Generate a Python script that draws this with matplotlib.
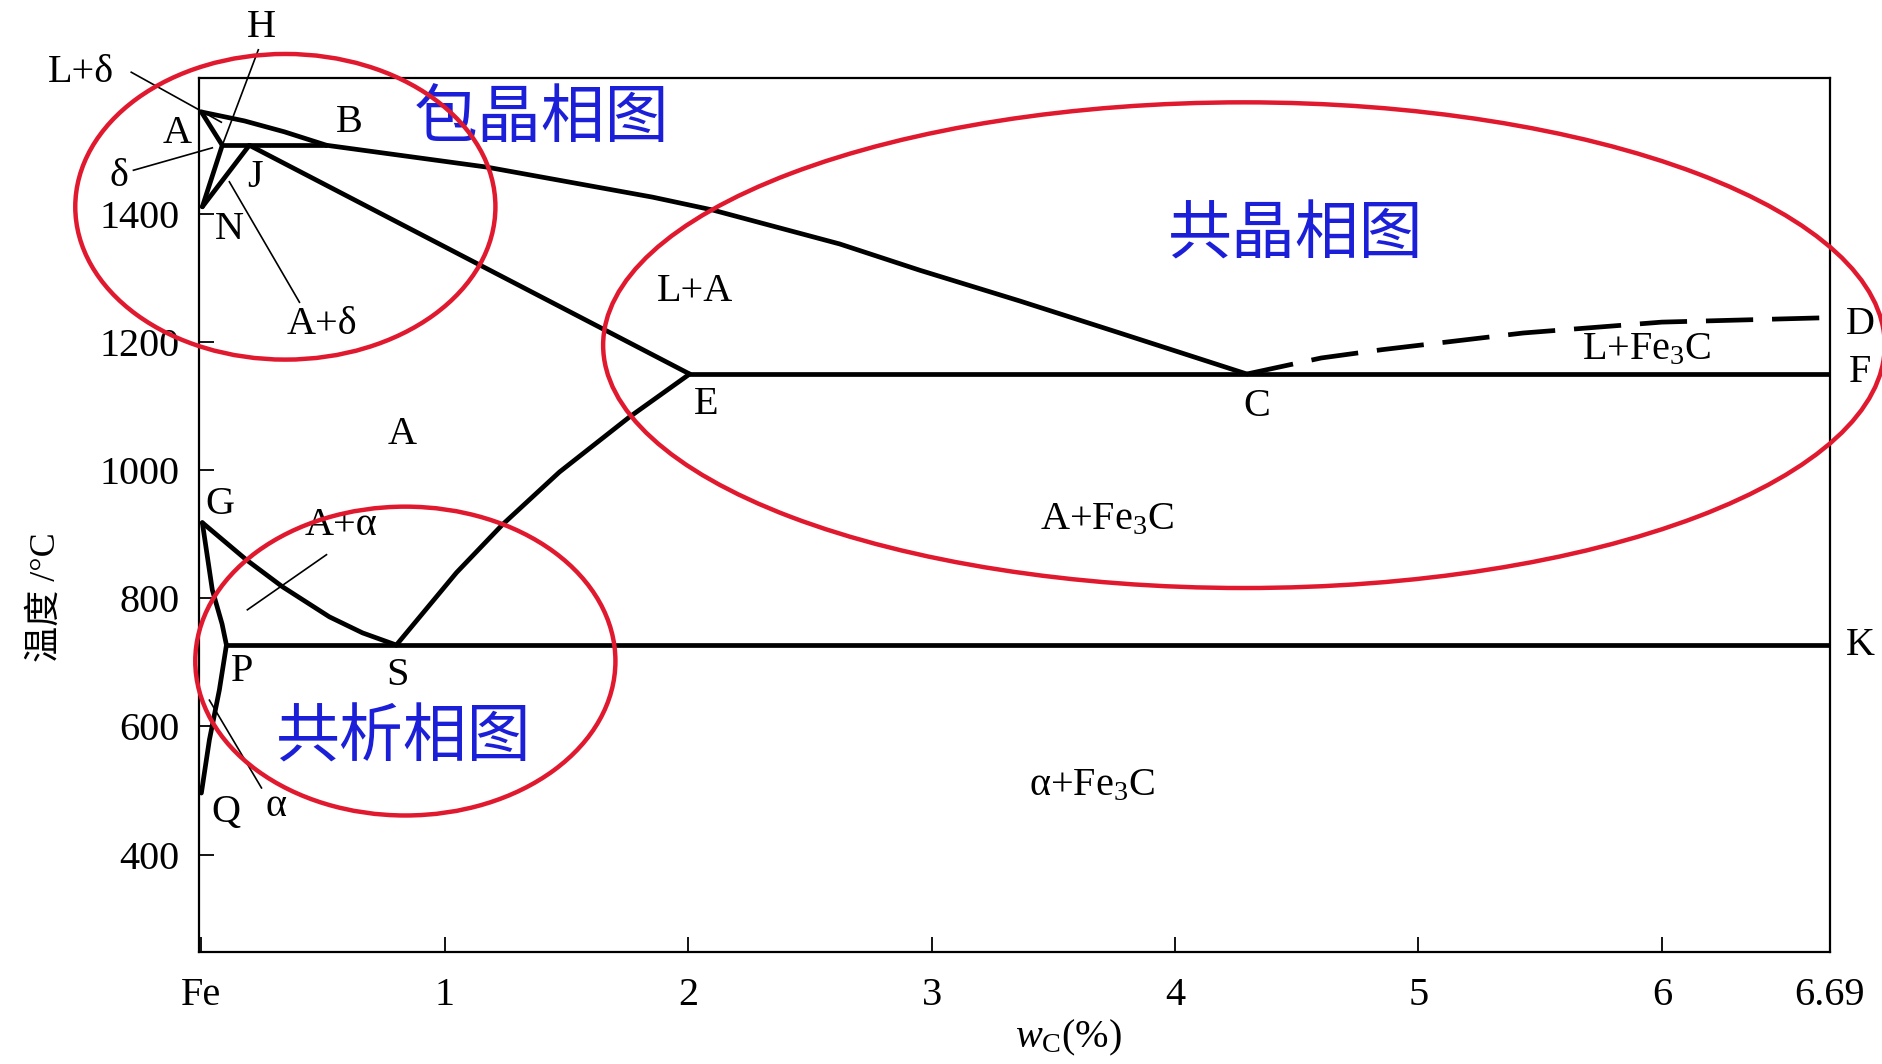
import matplotlib
matplotlib.use('Agg')
import matplotlib.pyplot as plt
from matplotlib.patches import Ellipse

plt.rcParams['font.family'] = ['Liberation Serif', 'Noto Sans CJK SC']
plt.rcParams['mathtext.fontset'] = 'custom'
plt.rcParams['mathtext.rm'] = 'Liberation Serif'
plt.rcParams['mathtext.it'] = 'Liberation Serif:italic'

# ---- Fe-Fe3C diagram: composition wC (%) / temperature (degC) ----
# liquidus A-B-C and the dashed C-D branch
liq_AB_w = [0.0, 0.177, 0.341, 0.514]
liq_AB_T = [1559, 1545, 1528, 1507]
liq_BC_w = [0.514, 1.171, 1.854, 2.100, 2.622, 2.951, 3.362, 3.773, 4.295]
liq_BC_T = [1507, 1473, 1426, 1406, 1353, 1312, 1264, 1214, 1150]
liq_CD_w = [4.295, 4.6, 4.85, 5.43, 6.0, 6.69]
liq_CD_T = [1150, 1175, 1188, 1214, 1231, 1238]

# peritectic corner
AH_w, AH_T = [0.0, 0.086], [1559, 1507]
HB_w, HB_T = [0.086, 0.514], [1507, 1507]
HN_w, HN_T = [0.086, 0.004], [1507, 1411]
JN_w, JN_T = [0.197, 0.004], [1507, 1411]
JE_w, JE_T = [0.197, 2.006], [1507, 1150]

# eutectic / eutectoid lines
ECF_w, ECF_T = [2.006, 6.69], [1150, 1150]
PSK_w, PSK_T = [0.103, 6.69], [727, 727]

# solid state boundaries
ES_w = [0.801, 1.048, 1.237, 1.471, 1.759, 2.006]
ES_T = [727, 840, 915, 997, 1083, 1150]
GS_w = [0.004, 0.185, 0.333, 0.526, 0.662, 0.801]
GS_T = [918, 860, 818, 771, 746, 727]
GP_w = [0.004, 0.045, 0.085, 0.103]
GP_T = [918, 813, 760, 727]
PQ_w = [0.103, 0.074, 0.033, 0.0]
PQ_T = [727, 657, 579, 496]

# axis ticks
xticks = [0, 1, 2, 3, 4, 5, 6, 6.69]
xtick_labels = ['Fe', '1', '2', '3', '4', '5', '6', '6.69']
yticks = [400, 600, 800, 1000, 1200, 1400]

# point letters and phase fields
point_labels = [('H', 0.247, 1691), ('A', -0.099, 1526), ('B', 0.608, 1542),
                ('J', 0.222, 1456), ('N', 0.115, 1375), ('E', 2.072, 1103),
                ('C', 4.336, 1100), ('D', 6.815, 1228), ('F', 6.815, 1153),
                ('K', 6.815, 726), ('G', 0.078, 946), ('P', 0.169, 685),
                ('S', 0.806, 680), ('Q', 0.103, 465)]
field_labels = [('L+δ', -0.493, 1620), ('δ', -0.337, 1459), ('A+δ', 0.497, 1227),
                ('A', 0.826, 1056), ('L+A', 2.026, 1278),
                ('L+Fe$_3$C', 5.939, 1188), ('A+Fe$_3$C', 3.72, 922),
                ('α+Fe$_3$C', 3.658, 507), ('A+α', 0.575, 913), ('α', 0.308, 475)]
# leader lines from the small field labels (start, end)
leaders = [((-0.288, 1621), (0.082, 1543)),
           ((0.234, 1656), (0.086, 1507)),
           ((-0.279, 1468), (0.045, 1503)),
           ((0.115, 1450), (0.403, 1262)),
           ((0.514, 868), (0.189, 782)),
           ((0.033, 641), (0.247, 504))]

# highlighted sub-diagrams: name, centre (w, T), width (w), height (T), text position
regions = [('包晶相图', (0.345, 1411), 1.726, 477, (1.397, 1549)),
           ('共晶相图', (4.283, 1195), 5.265, 758, (4.497, 1367)),
           ('共析相图', (0.838, 702), 1.726, 482, (0.830, 582))]

fig = plt.figure(figsize=(18.82, 10.64), dpi=100)
ax = fig.add_axes([0.1057, 0.1053, 0.8666, 0.8214])

lw = 3.4
line_kw = dict(color='black', lw=lw, solid_capstyle='round', solid_joinstyle='round')
for xs, ys in [(liq_AB_w, liq_AB_T), (liq_BC_w, liq_BC_T), (AH_w, AH_T), (HB_w, HB_T),
               (HN_w, HN_T), (JN_w, JN_T), (JE_w, JE_T), (ECF_w, ECF_T), (PSK_w, PSK_T),
               (ES_w, ES_T), (GS_w, GS_T), (GP_w, GP_T), (PQ_w, PQ_T)]:
    ax.plot(xs, ys, **line_kw)
ax.plot(liq_CD_w, liq_CD_T, color='black', lw=lw, dashes=(10, 4))

for (x0, y0), (x1, y1) in leaders:
    ax.plot([x0, x1], [y0, y1], color='black', lw=1.2, clip_on=False)

for txt, x, y in point_labels + field_labels:
    ax.text(x, y, txt, fontsize=29, ha='center', va='center')

for name, centre, w, h, tpos in regions:
    ax.add_patch(Ellipse(centre, w, h, fill=False, edgecolor='#e0192f', lw=3.2,
                         clip_on=False, zorder=5))
    ax.text(tpos[0], tpos[1], name, fontsize=46, color='#1c1fd8', ha='center',
            va='center', family=['Noto Sans CJK SC'], zorder=4)

ax.set_xlim(-0.01, 6.69)
ax.set_ylim(248, 1612)
ax.set_xticks(xticks)
ax.set_xticklabels(xtick_labels)
ax.set_yticks(yticks)
ax.tick_params(axis='both', direction='in', length=11, width=1.3, labelsize=29)
ax.tick_params(axis='x', pad=18)
ax.tick_params(axis='y', pad=14)
for sp in ax.spines.values():
    sp.set_linewidth(1.6)

ax.set_xlabel('$w_\\mathrm{C}$(%)', fontsize=29)
ax.xaxis.set_label_coords(0.533, -0.075)
ax.set_ylabel('温度 /°C', fontsize=26, ha='center', va='center')
ax.yaxis.set_label_coords(-0.094, 0.406)

fig.savefig('out.png', dpi=100, facecolor='white')
